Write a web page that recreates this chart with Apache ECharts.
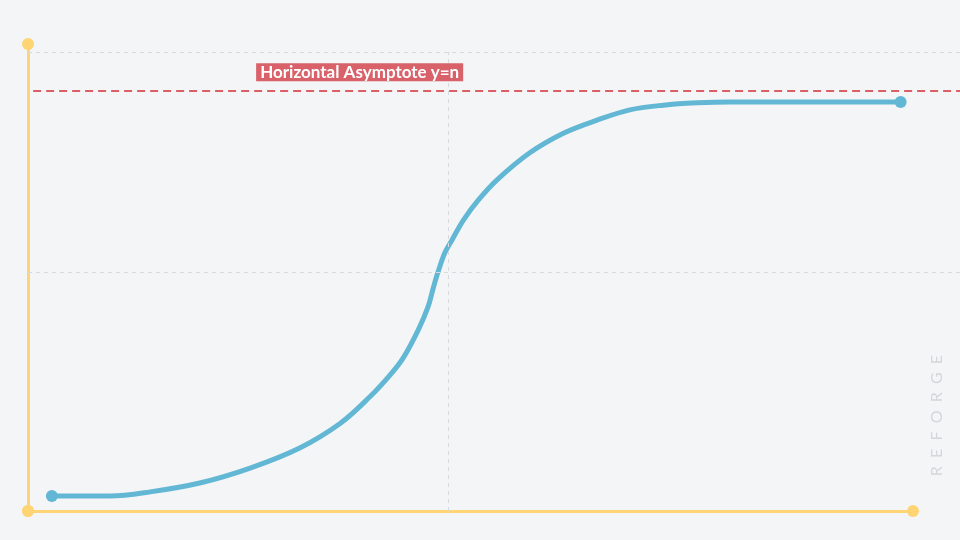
<!DOCTYPE html>
<html>
<head>
<meta charset="utf-8">
<script src="https://cdn.jsdelivr.net/npm/echarts@6/dist/echarts.min.js"></script>
<style>
  html, body { margin: 0; padding: 0; background: #f3f5f7; }
  #chart { width: 960px; height: 540px; }
</style>
</head>
<body>
<div id="chart"></div>
<script>
// S-curve (logistic-like) readings, x and y in 0-100 units
const curveX = [2.7, 5.9, 9.3, 13.8, 19.4, 25.1, 30.7, 35.3, 38.6, 40.9, 42.4, 44.1, 45.2, 45.8, 46.3, 47.1, 47.9, 49.2, 50.9, 53.0, 56.7, 60.5, 64.3, 68.0, 71.8, 75.6, 79.3, 98.6];
const curveY = [3.2, 3.2, 3.2, 4.1, 6.0, 9.2, 13.5, 18.8, 24.4, 29.1, 32.8, 38.8, 43.7, 47.8, 51.0, 55.3, 58.0, 62.3, 66.6, 70.9, 76.7, 80.9, 83.7, 85.9, 86.9, 87.4, 87.6, 87.6];
const asymptoteY = 89.9;
const asymptoteLabel = 'Horizontal Asymptote y=n';
const gridLinesY = [98.3, 51.2];
const gridLineX = 47.5;
const watermark = 'R  E  F  O  R  G  E';

const curveData = curveX.map((x, i) => [x, curveY[i]]);
const lastIdx = curveData.length - 1;

const gray = '#d7d9dd';
const chart = echarts.init(document.getElementById('chart'));
chart.setOption({
  backgroundColor: '#f3f5f7',
  animation: false,
  grid: [
    { left: 28, right: 47, top: 44, bottom: 29 },
    { left: 28, right: 0, top: 44, bottom: 29 }
  ],
  xAxis: [
    {
      type: 'value', gridIndex: 0, min: 0, max: 100,
      axisLine: { show: true, symbol: ['circle', 'circle'], symbolSize: [12, 12], lineStyle: { color: '#ffd475', width: 3 } },
      axisTick: { show: false }, axisLabel: { show: false }, splitLine: { show: false }
    },
    {
      type: 'value', gridIndex: 1, min: 0, max: 100, show: false, splitLine: { show: false }
    }
  ],
  yAxis: [
    {
      type: 'value', gridIndex: 0, min: 0, max: 100,
      axisLine: { show: true, onZero: false, symbol: ['circle', 'circle'], symbolSize: [12, 12], lineStyle: { color: '#ffd475', width: 3 } },
      axisTick: { show: false }, axisLabel: { show: false }, splitLine: { show: false }
    },
    {
      type: 'value', gridIndex: 1, min: 0, max: 100, show: false, splitLine: { show: false }
    }
  ],
  graphic: [
    {
      type: 'text', left: 929, top: 355, rotation: Math.PI / 2,
      style: { text: watermark, fill: '#d4d6d9', font: '16px Lato' }
    }
  ],
  series: [
    {
      type: 'line', xAxisIndex: 1, yAxisIndex: 1, data: [], silent: true, z: 1,
      markLine: {
        silent: true, symbol: 'none',
        lineStyle: { color: gray, type: [4, 4], width: 1 },
        label: { show: false },
        data: gridLinesY.map(v => [{ coord: [0, v] }, { coord: [100, v] }])
      }
    },
    {
      type: 'line', xAxisIndex: 1, yAxisIndex: 1, data: [], silent: true, z: 3,
      markLine: {
        silent: true, symbol: 'none',
        lineStyle: { color: '#dc5f68', type: [8, 5], width: 2 },
        label: {
          show: true, position: 'insideStartTop', formatter: asymptoteLabel,
          color: '#ffffff', fontFamily: 'Lato', fontWeight: 'bold', fontSize: 17,
          backgroundColor: '#d9626a', padding: [1, 4, 0, 4], distance: [223, 10]
        },
        data: [[{ coord: [0.55, asymptoteY] }, { coord: [100, asymptoteY] }]]
      }
    },
    {
      type: 'line', xAxisIndex: 0, yAxisIndex: 0, z: 4,
      data: curveData,
      smooth: 0.35,
      showAllSymbol: true,
      symbol: 'circle',
      symbolSize: (v, p) => (p.dataIndex === 0 || p.dataIndex === lastIdx) ? 12 : 0,
      itemStyle: { color: '#62b7d4' },
      lineStyle: { color: '#62b7d4', width: 5 },
      markLine: {
        silent: true, symbol: 'none',
        lineStyle: { color: gray, type: [4, 4], width: 1 },
        label: { show: false },
        data: [[{ coord: [gridLineX, 0] }, { coord: [gridLineX, gridLinesY[0]] }]]
      }
    }
  ]
});
</script>
</body>
</html>
